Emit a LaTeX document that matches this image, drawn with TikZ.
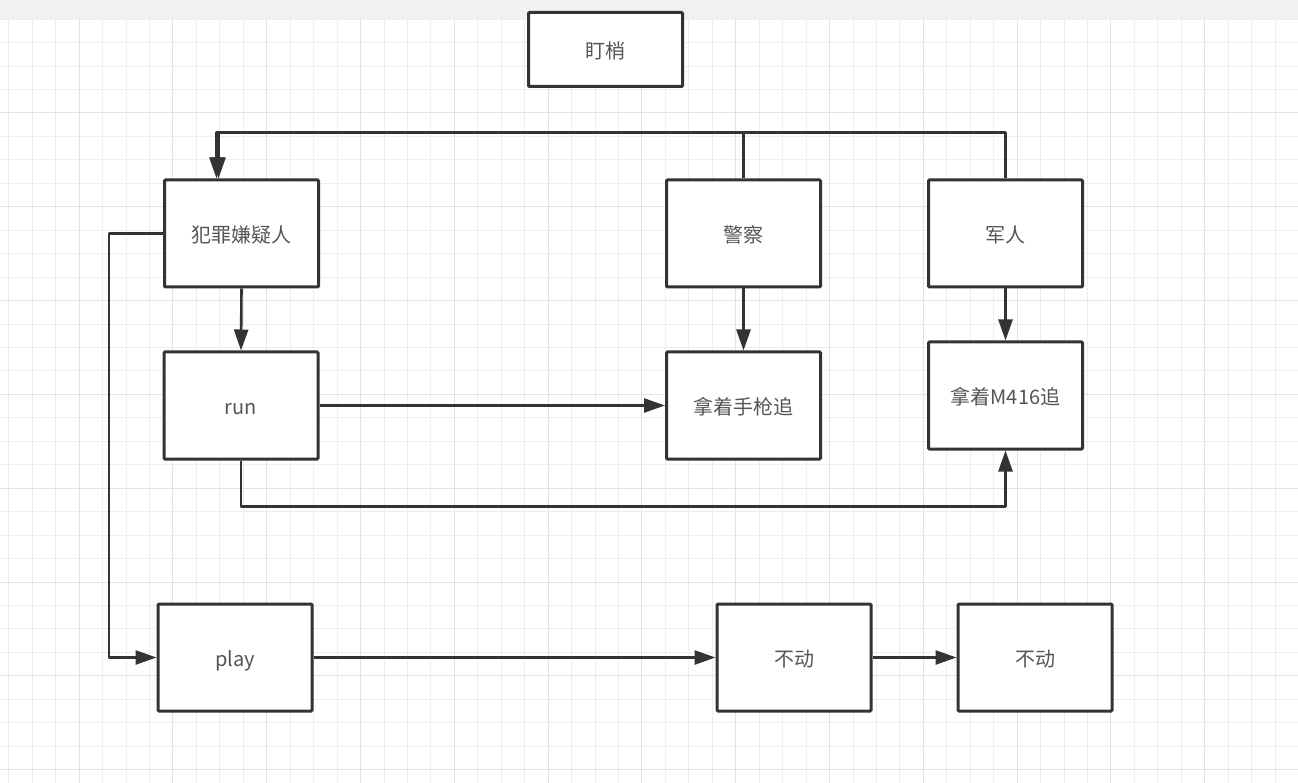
\documentclass[tikz,border=0pt]{standalone}
\usepackage{fontspec}
\usepackage{xcolor}
\usetikzlibrary{arrows.meta}
\newfontfamily\cjk{Noto Sans CJK SC}
\definecolor{boxGray}{HTML}{333333}
\definecolor{textGray}{HTML}{555555}
\definecolor{gridMinor}{HTML}{EEEEEE}
\definecolor{gridMajor}{HTML}{E3E3E3}
\definecolor{barGray}{HTML}{F1F1F1}
\tikzset{
 flowbox/.style={draw=boxGray, line width=3pt, fill=white, rounded corners=1pt,
  minimum width=154pt, minimum height=107pt, inner sep=0pt, text=textGray,
  text height=18pt, text depth=0pt,
  font=\cjk\fontsize{20}{20}\selectfont},
 flowline/.style={draw=boxGray, line width=2.6pt, line join=round,
  -{Triangle[length=21pt,width=14pt]}},
}
\begin{document}
\begin{tikzpicture}[x=1pt,y=-1pt]
 \useasboundingbox (0,0) rectangle (1298,783);
 % Background
 \fill[white] (0,0) rectangle (1298,783);
 \fill[barGray] (0,0) rectangle (1298,19.2);
 \foreach \k in {0,...,55} \draw[gridMinor, line width=1pt] ({8.8+23.45*\k},19.2) -- ({8.8+23.45*\k},783);
 \foreach \k in {0,...,32} \draw[gridMinor, line width=1pt] (0,{19.2+23.45*\k}) -- (1298,{19.2+23.45*\k});
 \foreach \k in {0,...,13} \draw[gridMajor, line width=1pt] ({79.15+93.8*\k},19.2) -- ({79.15+93.8*\k},783);
 \foreach \k in {1,...,8} \draw[gridMajor, line width=1pt] (0,{19.2+93.8*\k}) -- (1298,{19.2+93.8*\k});
 % Boxes
 \node[flowbox, minimum width=154pt, minimum height=74pt] (stakeout) at (605.5,49.5) {盯梢};
 \node[flowbox] (suspect) at (241.5,233.5) {犯罪嫌疑人};
 \node[flowbox] (police) at (743.5,233.5) {警察};
 \node[flowbox] (soldier) at (1005.5,233.5) {军人};
 \node[flowbox] (run) at (241,405.5) {run};
 \node[flowbox] (pistol) at (743.5,405.5) {拿着手枪追};
 \node[flowbox] (rifle) at (1005.5,395.5) {拿着M416追};
 \node[flowbox] (play) at (235,657.5) {play};
 \node[flowbox] (still) at (794,657.5) {不动};
 \node[flowbox] (stillb) at (1035,657.5) {不动};
 % Connectors
 \coordinate (bus) at (216.5,132.5);
 \coordinate (busb) at (218.5,132.5);
 \coordinate (side) at (109,233.5);
 \draw[flowline] (soldier.north) |- (busb) -- (busb |- suspect.north);
 \draw[flowline] (police.north) |- (bus) -- (bus |- suspect.north);
 \draw[flowline] (suspect.south) -- (run.north);
 \draw[flowline] (police.south) -- (pistol.north);
 \draw[flowline] (soldier.south) -- (rifle.north);
 \draw[flowline] (run.east) -- (pistol.west);
 \draw[flowline] (run.south) -- ++(0,46) -| (rifle.south);
 \draw[flowline] (suspect.west) -- (side) |- (play.west);
 \draw[flowline] (play.east) -- (still.west);
 \draw[flowline] (still.east) -- (stillb.west);
\end{tikzpicture}
\end{document}
